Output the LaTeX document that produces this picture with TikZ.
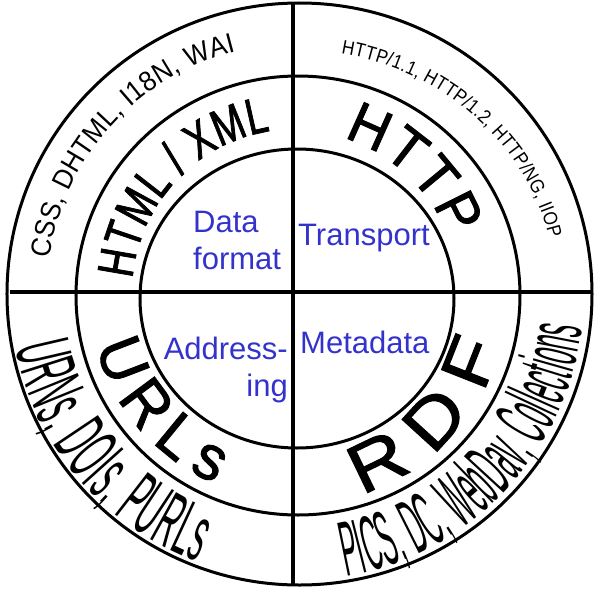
\documentclass[tikz,border=0pt]{standalone}
\usepackage{fontspec}
\usetikzlibrary{decorations.text}
\setmainfont{Liberation Sans}
\newfontfamily\fArial{Liberation Sans}
\newfontfamily\fCssF[FakeStretch=0.93]{Liberation Sans}
\newfontfamily\fHtmlF[FakeStretch=0.74,FakeBold=1.5]{Liberation Sans}
\newfontfamily\fSmallF[FakeStretch=0.88]{Liberation Sans}
\newfontfamily\fHttpF[FakeStretch=0.95,FakeBold=1.5]{Liberation Sans}
\newfontfamily\fUrlF[FakeStretch=0.95,FakeBold=1.5]{Liberation Sans}
\newfontfamily\fRdfF[FakeStretch=1.15,FakeBold=1.5]{Liberation Sans}
\newfontfamily\fUrnF[FakeStretch=0.37]{Liberation Sans}
\newfontfamily\fPicsF[FakeStretch=0.31]{Liberation Sans}
\newcommand\tCss{\fCssF\fontsize{28}{28}\selectfont}
\newcommand\tHtml{\fHtmlF\fontsize{51}{51}\selectfont}
\newcommand\tSmall{\fSmallF\fontsize{19.5}{19.5}\selectfont}
\newcommand\tHttp{\fHttpF\fontsize{58}{58}\selectfont}
\newcommand\tUrl{\fUrlF\fontsize{63}{63}\selectfont}
\newcommand\tRdf{\fRdfF\fontsize{69}{69}\selectfont}
\newcommand\tUrn{\fUrnF\fontsize{78}{78}\selectfont}
\newcommand\tPics{\fPicsF\fontsize{78}{78}\selectfont}
\definecolor{lblue}{RGB}{51,51,204}
\begin{document}
\begin{tikzpicture}[x=1pt,y=1pt,
  ring/.style={line width=3pt},
  axisline/.style={line width=3.2pt},
  lbl/.style={text=lblue, font=\fArial\fontsize{31}{37}\selectfont, inner sep=0pt},
  arctext/.style={decorate, decoration={text along path, text={#1}, text align={fit to path}}}
]
\useasboundingbox (-296,-305) rectangle (317,293);
% rings
\draw[ring] (3.5,-1) ellipse [x radius=292.5, y radius=291];
\draw[ring] (2,-2.5) ellipse [x radius=222, y radius=219.5];
\draw[ring] (1,-5.5) ellipse [x radius=157, y radius=149.5];
% axes
\coordinate (vtop) at (-3,290);
\coordinate (vbot) at (-3,-292);
\coordinate (hleft) at (-286,1);
\coordinate (hright) at (295,1);
\draw[axisline] (vtop) -- (vbot);
\draw[axisline] (hleft) -- (hright);
% centre labels (base anchor = baseline of the last line)
\node[lbl, anchor=base west, align=left] (data) at (-103,24) {Data\\format};
\node[lbl, anchor=base west] (transport) at (2,48) {Transport};
\node[lbl, anchor=base east, align=right] (addr) at (-8,-103) {Address-\\ing};
\node[lbl, anchor=base west] (meta) at (4,-60) {Metadata};
% curved texts, top (clockwise)
\path[arctext={|\tCss|CSS, DHTML, I18N, WAI}] (172:249) arc[start angle=172, end angle=104, radius=249];
\path[arctext={|\tHtml|HTML / XML}] (175:164) arc[start angle=175, end angle=99, radius=164];
\path[arctext={|\tSmall|HTTP/1.1, HTTP/1.2, HTTP/NG, IIOP}] (80:260 and 243) arc[start angle=80, end angle=13, x radius=260, y radius=243];
\path[arctext={|\tHttp|HTTP}] (73:162) arc[start angle=73, end angle=20, radius=162];
% curved texts, bottom (counter-clockwise)
\path[arctext={|\tUrl|URLs}] (195:207) arc[start angle=195, end angle=247, radius=207];
\path[arctext={|\tRdf|RDF}] (-72:211) arc[start angle=-72, end angle=-15, radius=211];
\path[arctext={|\tUrn|URNs, DOIs, PURLs}] (191:286) arc[start angle=191, end angle=250, radius=286];
\path[arctext={|\tPics|PICS, DC, WebDav, Collections}] (-80:288) arc[start angle=-80, end angle=-7, radius=288];
\end{tikzpicture}
\end{document}
